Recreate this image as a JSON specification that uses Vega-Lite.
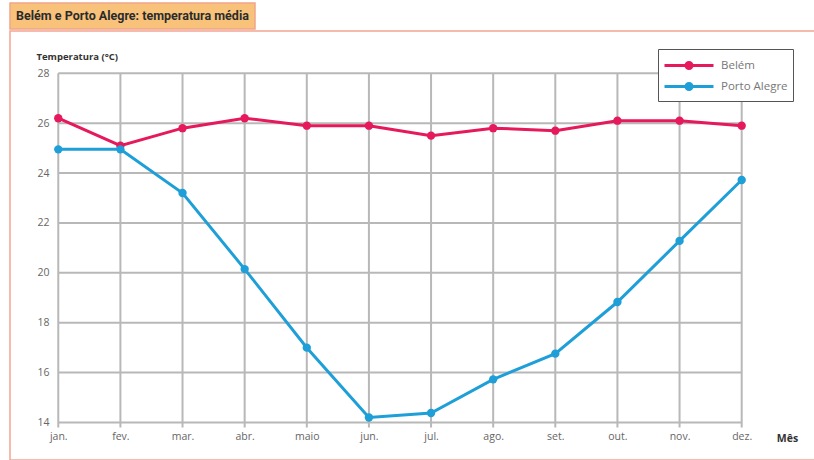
{
  "$schema": "https://vega.github.io/schema/vega-lite/v6.json",
  "padding": {"left": 9, "top": 2, "right": 0, "bottom": 0},
  "background": "white",
  "spacing": 0,
  "datasets": {
    "heading": [{"label": "Belém e Porto Alegre: temperatura média"}],
    "months": [{"m": 0}, {"m": 1}, {"m": 2}, {"m": 3}, {"m": 4}, {"m": 5}, {"m": 6}, {"m": 7}, {"m": 8}, {"m": 9}, {"m": 10}, {"m": 11}],
    "ticks": [{"t": 14}, {"t": 16}, {"t": 18}, {"t": 20}, {"t": 22}, {"t": 24}, {"t": 26}, {"t": 28}],
    "temps": [
      {"m": 0, "cidade": "Belém", "temp": 26.2},
      {"m": 1, "cidade": "Belém", "temp": 25.1},
      {"m": 2, "cidade": "Belém", "temp": 25.8},
      {"m": 3, "cidade": "Belém", "temp": 26.2},
      {"m": 4, "cidade": "Belém", "temp": 25.9},
      {"m": 5, "cidade": "Belém", "temp": 25.9},
      {"m": 6, "cidade": "Belém", "temp": 25.5},
      {"m": 7, "cidade": "Belém", "temp": 25.8},
      {"m": 8, "cidade": "Belém", "temp": 25.7},
      {"m": 9, "cidade": "Belém", "temp": 26.1},
      {"m": 10, "cidade": "Belém", "temp": 26.1},
      {"m": 11, "cidade": "Belém", "temp": 25.9},
      {"m": 0, "cidade": "Porto Alegre", "temp": 24.95},
      {"m": 1, "cidade": "Porto Alegre", "temp": 24.95},
      {"m": 2, "cidade": "Porto Alegre", "temp": 23.2},
      {"m": 3, "cidade": "Porto Alegre", "temp": 20.15},
      {"m": 4, "cidade": "Porto Alegre", "temp": 17.0},
      {"m": 5, "cidade": "Porto Alegre", "temp": 14.2},
      {"m": 6, "cidade": "Porto Alegre", "temp": 14.38},
      {"m": 7, "cidade": "Porto Alegre", "temp": 15.73},
      {"m": 8, "cidade": "Porto Alegre", "temp": 16.76},
      {"m": 9, "cidade": "Porto Alegre", "temp": 18.83},
      {"m": 10, "cidade": "Porto Alegre", "temp": 21.28},
      {"m": 11, "cidade": "Porto Alegre", "temp": 23.72}
    ]
  },
  "vconcat": [
    {
      "width": 245,
      "height": 26,
      "view": {"fill": "#F8C27B", "stroke": "#F0A58A", "strokeWidth": 1.5},
      "data": {"name": "heading"},
      "mark": {"type": "text", "font": "Liberation Sans Narrow, Roboto, sans-serif", "fontWeight": "bold", "fontSize": 12.5, "color": "#2b2b2b", "align": "center", "baseline": "middle"},
      "encoding": {"text": {"field": "label", "type": "nominal"}}
    },
    {
      "width": 805,
      "height": 429,
      "view": {"stroke": "#F4A592", "strokeWidth": 1.5, "fill": "white"},
      "encoding": {
        "x": {
          "type": "quantitative",
          "scale": {"domain": [-0.777, 12.18], "nice": false, "zero": false},
          "axis": {
            "values": [0, 1, 2, 3, 4, 5, 6, 7, 8, 9, 10, 11],
            "labelExpr": "['jan.','fev.','mar.','abr.','maio','jun.','jul.','ago.','set.','out.','nov.','dez.'][datum.value]",
            "offset": -37, "domain": false, "ticks": false, "grid": false,
            "labelPadding": 8, "labelColor": "#666", "labelFontSize": 10.5, "labelFlush": false, "labelOverlap": false,
            "title": "Mês", "titleX": 777, "titleY": 15, "titleAlign": "center", "titleBaseline": "middle",
            "titleFontWeight": "bold", "titleFontSize": 10.5, "titleColor": "#333"
          }
        },
        "y": {
          "type": "quantitative",
          "scale": {"domain": [12.496, 29.696], "nice": false, "zero": false},
          "axis": {
            "values": [14, 16, 18, 20, 22, 24, 26, 28],
            "offset": -48, "domain": false, "ticks": false, "grid": false,
            "labelPadding": 9, "labelColor": "#666", "labelFontSize": 10.5,
            "title": "Temperatura (°C)", "titleAngle": 0, "titleX": -22, "titleY": 25, "titleAlign": "left", "titleBaseline": "middle",
            "titleFontWeight": "bold", "titleFontSize": 9.5, "titleColor": "#333"
          }
        }
      },
      "layer": [
        {
          "data": {"name": "months"},
          "mark": {"type": "rule", "color": "#b8b8b8", "strokeWidth": 2},
          "encoding": {
            "x": {"field": "m"},
            "y": {"datum": 13.8},
            "y2": {"datum": 28}
          }
        },
        {
          "data": {"name": "ticks"},
          "mark": {"type": "rule", "color": "#b8b8b8", "strokeWidth": 2},
          "encoding": {
            "y": {"field": "t"},
            "x": {"datum": 0},
            "x2": {"datum": 11}
          }
        },
        {
          "data": {"name": "temps"},
          "mark": {"type": "line", "strokeWidth": 3, "point": {"filled": true, "size": 70, "opacity": 1}},
          "encoding": {
            "x": {"field": "m"},
            "y": {"field": "temp"},
            "color": {
              "field": "cidade", "type": "nominal",
              "scale": {"domain": ["Belém", "Porto Alegre"], "range": ["#E5195B", "#1E9FD8"]},
              "legend": {
                "title": null, "orient": "none", "legendX": 648, "legendY": 46,
                "strokeColor": "#555", "fillColor": "white", "padding": 5,
                "symbolType": "M-1,0L3.9,0M1.15,0A0.3,0.3 0 1,0 1.75,0A0.3,0.3 0 1,0 1.15,0",
                "symbolSize": 400, "symbolStrokeWidth": 3,
                "labelFontSize": 11.5, "labelColor": "#777", "labelOffset": 35, "rowPadding": 0
              }
            }
          }
        }
      ]
    }
  ],
  "config": {
    "font": "Open Sans"
  }
}
